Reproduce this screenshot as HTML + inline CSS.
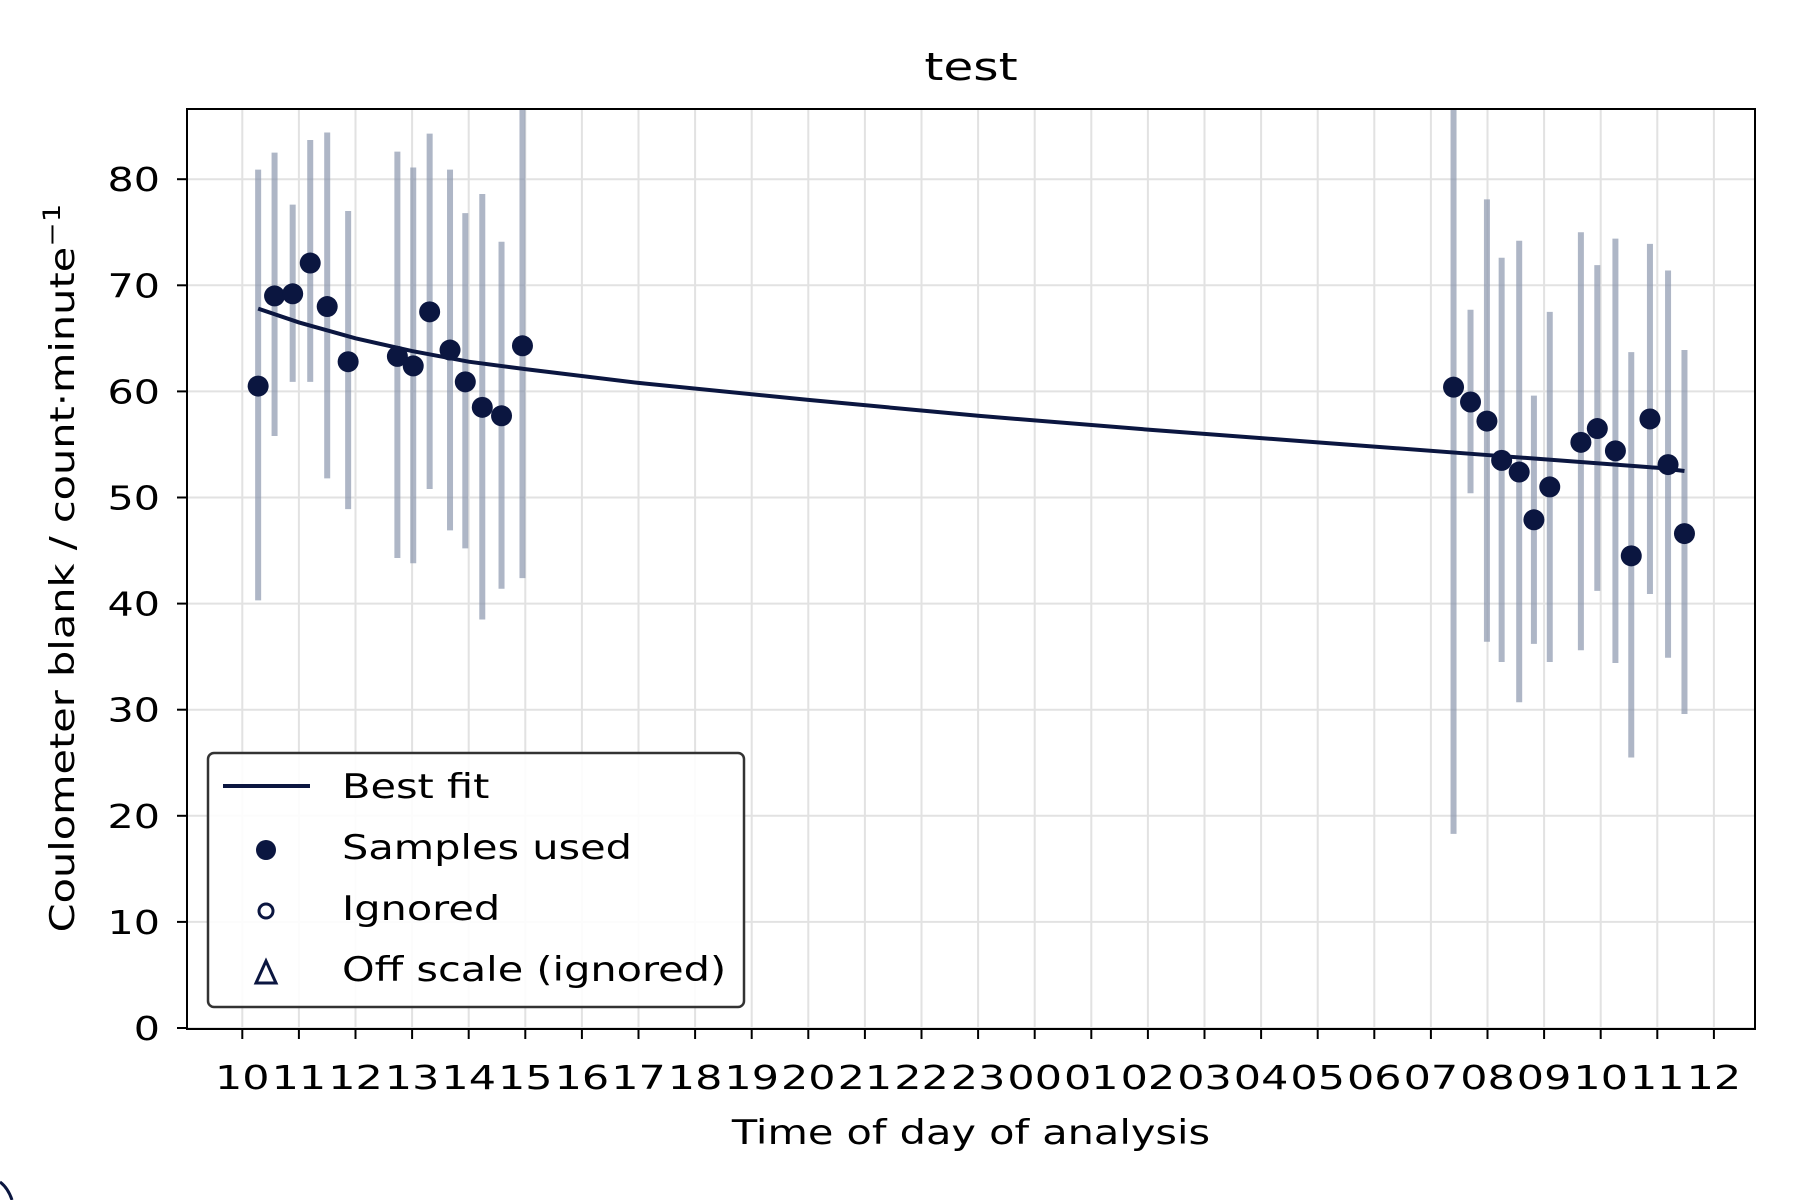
<!DOCTYPE html>
<html><head><meta charset="utf-8"><style>
html,body{margin:0;padding:0;background:#fff;}
svg{display:block;font-family:"DejaVu Sans","Liberation Sans",sans-serif;}
</style></head><body>
<svg id="chart" width="1800" height="1200" viewBox="0 0 1800 1200">
<rect width="1800" height="1200" fill="#fff"/>
<g id="grid"></g>
<g id="errbars"></g>
<g id="fit"></g>
<g id="points"></g>
<rect x="187" y="109" width="1568" height="920" fill="none" stroke="#000" stroke-width="2"/>
<g id="axes"></g>
<text transform="translate(971,80) scale(1.28,1)" font-size="38" text-anchor="middle">test</text>
<text transform="translate(971,1144) scale(1.22,1)" font-size="34" text-anchor="middle">Time of day of analysis</text>
<text transform="translate(74,568) rotate(-90) scale(1.22,1)" font-size="34" text-anchor="middle">Coulometer blank / count·minute<tspan font-size="24" dy="-14">−1</tspan></text>
<g>
<rect x="208" y="753" width="536" height="254" rx="6" fill="#fff" fill-opacity="0.9" stroke="#333" stroke-width="2.5"/>
<g><line x1="223" y1="786" x2="310" y2="786" stroke="#0b1640" stroke-width="4"/><text transform="translate(342,798) scale(1.22,1)" font-size="34">Best fit</text></g>
<g><circle cx="266" cy="850" r="10" fill="#0b1640"/><text transform="translate(342,859) scale(1.22,1)" font-size="34">Samples used</text></g>
<g><circle cx="266" cy="911" r="7" fill="none" stroke="#0b1640" stroke-width="3"/><text transform="translate(342,920) scale(1.22,1)" font-size="34">Ignored</text></g>
<g><polygon points="266,961 256,983 276,983" fill="none" stroke="#0b1640" stroke-width="3"/><text transform="translate(342,981) scale(1.22,1)" font-size="34">Off scale (ignored)</text></g>
</g>
<path d="M0,1182 Q8,1188 12,1200" fill="none" stroke="#0b1640" stroke-width="3"/>
</svg>
<script>
const times=[10.28,10.57,10.89,11.20,11.50,11.87,12.74,13.02,13.31,13.67,13.94,14.24,14.58,14.95,31.40,31.70,31.99,32.25,32.56,32.82,33.10,33.65,33.94,34.26,34.54,34.87,35.19,35.48];
const values=[60.5,69.0,69.2,72.1,68.0,62.8,63.3,62.4,67.5,63.9,60.9,58.5,57.7,64.3,60.4,59.0,57.2,53.5,52.4,47.9,51.0,55.2,56.5,54.4,44.5,57.4,53.1,46.6];
const errHigh=[80.9,82.5,77.6,83.7,84.4,77.0,82.6,81.1,84.3,80.9,76.8,78.6,74.1,90,90,67.7,78.1,72.6,74.2,59.6,67.5,75.0,71.9,74.4,63.7,73.9,71.4,63.9];
const errLow=[40.3,55.8,60.9,60.9,51.8,48.9,44.3,43.8,50.8,46.9,45.2,38.5,41.4,42.4,18.3,50.4,36.4,34.5,30.7,36.2,34.5,35.6,41.2,34.4,25.5,40.9,34.9,29.6];
const fitTimes=[10.28,11,12,13,14,15,17,20,23,26,29,32,35,35.48];
const fitValues=[67.8,66.5,65.0,63.8,62.8,62.1,60.8,59.2,57.7,56.4,55.2,54.0,52.8,52.5];
const xTicks=[10,11,12,13,14,15,16,17,18,19,20,21,22,23,24,25,26,27,28,29,30,31,32,33,34,35,36];
const xTickLabels=["10","11","12","13","14","15","16","17","18","19","20","21","22","23","00","01","02","03","04","05","06","07","08","09","10","11","12"];
const yTicks=[0,10,20,30,40,50,60,70,80];

const NS="http://www.w3.org/2000/svg";
const X0=187,X1=1755,Y0=109,Y1=1029;
const xs=t=>242.3+(t-10)*56.6;
const ys=v=>1028-v*10.61;
function mk(tag,attrs,parent){const e=document.createElementNS(NS,tag);for(const k in attrs)e.setAttribute(k,attrs[k]);document.getElementById(parent).appendChild(e);return e;}
xTicks.forEach((t,i)=>{
  const x=xs(t);
  const g=mk('line',{x1:x,y1:Y0,x2:x,y2:Y1,stroke:'#e2e2e2','stroke-width':2},'grid');
  
  
  const tk=mk('line',{x1:x,y1:Y1,x2:x,y2:Y1+10,stroke:'#000','stroke-width':2},'axes');
  
  
  const tl=mk('text',{transform:'translate('+x+',1089) scale(1.3,1)','font-size':33,'text-anchor':'middle'},'axes');
  tl.textContent=xTickLabels[i];
  
  
});
yTicks.forEach(v=>{
  const y=ys(v);
  const g=mk('line',{x1:X0,y1:y,x2:X1,y2:y,stroke:'#e2e2e2','stroke-width':2},'grid');
  
  
  const tk=mk('line',{x1:X0-10,y1:y,x2:X0,y2:y,stroke:'#000','stroke-width':2},'axes');
  
  
  const tl=mk('text',{transform:'translate(160,'+(y+12)+') scale(1.25,1)','font-size':33,'text-anchor':'end'},'axes');
  tl.textContent=String(v);
  
  
});
times.forEach((t,i)=>{
  const x=xs(t);
  const top=Math.max(ys(errHigh[i]),Y0),bot=Math.min(ys(errLow[i]),Y1);
  const e=mk('line',{x1:x,y1:top,x2:x,y2:bot,stroke:'#8c97ae','stroke-opacity':0.7,'stroke-width':6},'errbars');
  
  
});
const fp=mk('polyline',{points:fitTimes.map((t,i)=>xs(t)+','+ys(fitValues[i])).join(' '),fill:'none',stroke:'#0b1640','stroke-width':4},'fit');


times.forEach((t,i)=>{
  const c=mk('circle',{cx:xs(t),cy:ys(values[i]),r:10.5,fill:'#0b1640'},'points');
  
  
});
</script>
</body></html>
